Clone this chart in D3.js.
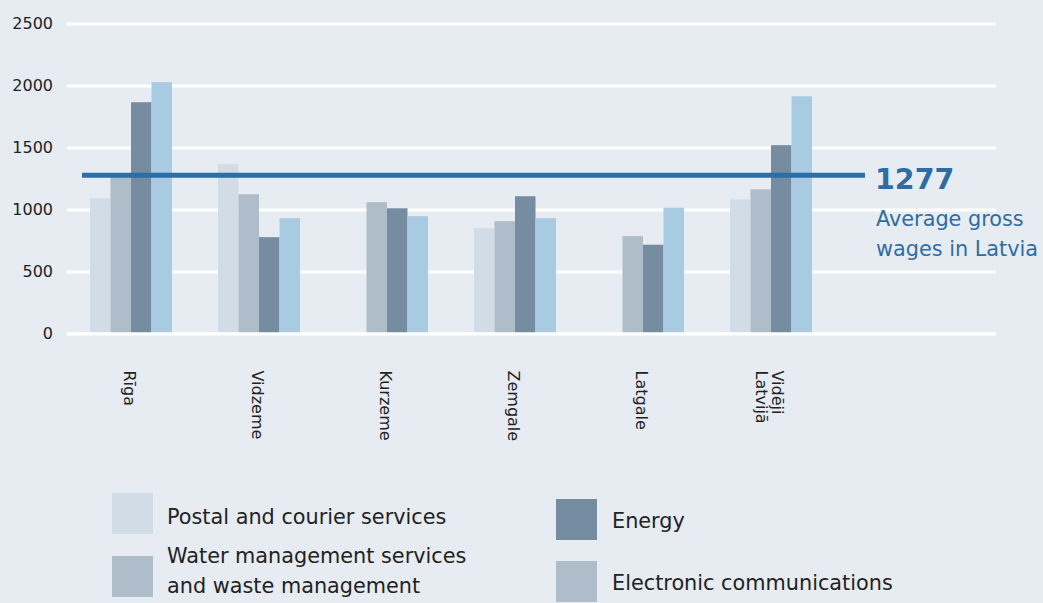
<!DOCTYPE html>
<html>
<head>
<meta charset="utf-8">
<script src="https://cdn.jsdelivr.net/npm/d3@7"></script>
<style>
  html, body { margin: 0; padding: 0; background: #e7ecf3; }
  svg { display: block; }
</style>
</head>
<body>
<svg id="chart" width="1043" height="603"></svg>
<script>
// Regions (rotated axis labels; multi-line labels split on "\n")
const regions = ["Rīga", "Vidzeme", "Kurzeme", "Zemgale", "Latgale", "Vidēji\nLatvijā"];

// Average gross wages by sector, EUR
const postal     = [1090, 1365, null, 849, null, 1082];
const water      = [1265, 1123, 1059, 906, 785, 1163];
const energy     = [1865, 777, 1010, 1107, 716, 1519];
const electronic = [2027, 930, 946, 930, 1015, 1913];

const seriesNames = [
  "Postal and courier services",
  "Water management services\nand waste management",
  "Energy",
  "Electronic communications"
];
const seriesValues = [postal, water, energy, electronic];
const barColors = ["#d2dce6", "#afbdca", "#758ca1", "#a9cbe1"];
const legendColors = ["#d2dce6", "#afbdca", "#758ca1", "#afbdca"];

const yTicks = [0, 500, 1000, 1500, 2000, 2500];
const average = 1277;
const averageLabel = ["Average gross", "wages in Latvia"];

const svg = d3.select("#chart");
const font = "'DejaVu Sans', Verdana, sans-serif";

const y = d3.scaleLinear().domain([0, 2500]).range([333.5, 23.5]);
const x = d3.scaleBand().domain(regions).range([67, 835]).padding(0);
const xs = d3.scaleBand().domain(d3.range(4)).range([23, 105]).padding(0);

// Horizontal gridlines and y tick labels
const yAxis = d3.axisLeft(y)
  .tickValues(yTicks)
  .tickFormat(d3.format("d"))
  .tickSize(-(996 - 67))
  .tickPadding(14);
const gy = svg.append("g").attr("transform", "translate(67,0)").call(yAxis);
gy.select(".domain").remove();
gy.selectAll(".tick line").attr("stroke", "#ffffff").attr("stroke-width", 3);
gy.selectAll(".tick text")
  .attr("fill", "#222")
  .style("font-family", font)
  .style("font-size", "16px");

// Grouped bars
const groups = svg.append("g").selectAll("g")
  .data(regions)
  .join("g")
  .attr("transform", d => `translate(${x(d)},0)`);

groups.selectAll("rect")
  .data((d, i) => seriesValues.map((s, k) => ({ k, v: s[i] })).filter(e => e.v != null))
  .join("rect")
  .attr("x", e => xs(e.k))
  .attr("width", xs.bandwidth())
  .attr("y", e => y(e.v))
  .attr("height", e => y(0) - y(e.v))
  .attr("fill", e => barColors[e.k]);

// Baseline over the bars
svg.append("line")
  .attr("x1", 67).attr("x2", 996)
  .attr("y1", y(0)).attr("y2", y(0))
  .attr("stroke", "#ffffff").attr("stroke-width", 2.5);

// Rotated region labels (reading top to bottom, first line on the right)
const xAxis = d3.axisBottom(x).tickSize(0).tickFormat("");
const gx = svg.append("g").attr("transform", `translate(0,${y(0)})`).call(xAxis);
gx.select(".domain").remove();
gx.selectAll(".tick").each(function (d) {
  const lines = d.split("\n");
  const t = d3.select(this).append("text")
    .attr("transform", "translate(-1,37) rotate(90)")
    .attr("text-anchor", "start")
    .attr("fill", "#222")
    .style("font-family", font)
    .style("font-size", "16px");
  const off = (lines.length - 1) * 8;
  lines.forEach((ln, i) => {
    t.append("tspan")
      .attr("x", 0)
      .attr("y", -off + i * 16)
      .attr("dy", "0.35em")
      .text(ln);
  });
});

// Average wage reference line and its label
svg.append("line")
  .attr("x1", 82).attr("x2", 865)
  .attr("y1", y(average)).attr("y2", y(average))
  .attr("stroke", "#2e6ea6").attr("stroke-width", 5);

svg.append("text")
  .attr("x", 875).attr("y", 189)
  .attr("fill", "#2e6ca3")
  .style("font-family", font)
  .style("font-weight", "bold")
  .style("font-size", "28.5px")
  .text(average);

svg.append("text")
  .attr("x", 876).attr("y", 226)
  .attr("fill", "#2e6ca3")
  .style("font-family", font)
  .style("font-size", "20.8px")
  .selectAll("tspan")
  .data(averageLabel)
  .join("tspan")
  .attr("x", 876)
  .attr("dy", (d, i) => i === 0 ? 0 : 30)
  .text(d => d);

// Legend
const legendPos = [
  { sx: 112, sy: 493, tx: 167, ty: 524 },
  { sx: 112, sy: 556, tx: 167, ty: 563 },
  { sx: 556, sy: 499, tx: 612, ty: 528 },
  { sx: 556, sy: 561, tx: 612, ty: 590 }
];
const legend = svg.append("g").selectAll("g")
  .data(seriesNames)
  .join("g");
legend.append("rect")
  .attr("x", (d, i) => legendPos[i].sx)
  .attr("y", (d, i) => legendPos[i].sy)
  .attr("width", 41).attr("height", 41)
  .attr("fill", (d, i) => legendColors[i]);
legend.append("text")
  .attr("fill", "#222")
  .style("font-family", font)
  .style("font-size", "20.8px")
  .each(function (d, i) {
    const t = d3.select(this);
    d.split("\n").forEach((ln, j) => {
      t.append("tspan")
        .attr("x", legendPos[i].tx)
        .attr("y", legendPos[i].ty + j * 30)
        .text(ln);
    });
  });
</script>
</body>
</html>
